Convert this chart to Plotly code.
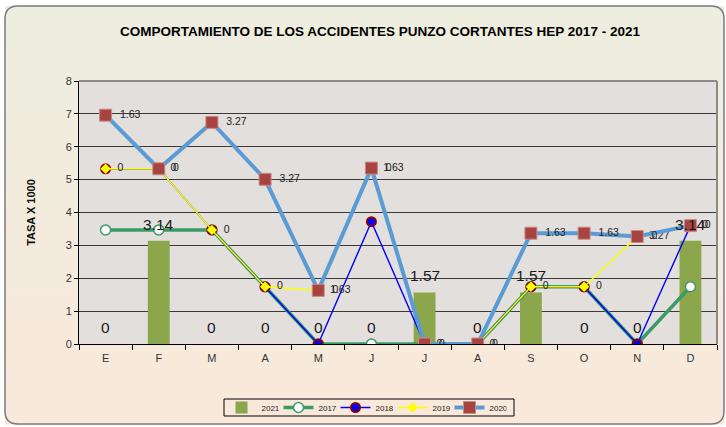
import numpy as np
import plotly.graph_objects as go

# ---------------- data ----------------
months = ["E", "F", "M", "A", "M", "J", "J", "A", "S", "O", "N", "D"]
tasa_2021 = [0, 3.14, 0, 0, 0, 0, 1.57, 0, 1.57, 0, 0, 3.14]
tasa_2017 = [3.47, 3.47, 3.47, 1.74, 0, 0, 0, 0, 1.74, 1.74, 0, 1.74]
tasa_2018 = [1.86, 1.86, 0, 0, 0, 3.72, 0, 0, 0, 0, 0, 1.86]
tasa_2019 = [0, 0, 0, 0, 1.63, 1.63, 0, 0, 0, 0, 3.27, 0]
tasa_2020 = [1.63, 0, 3.27, 3.27, 0, 0, 0, 0, 1.63, 1.63, 0, 0]
title_text = "COMPORTAMIENTO DE LOS ACCIDENTES PUNZO CORTANTES HEP 2017 - 2021"
y_title = "TASA X 1000"

# ---------------- layout geometry (pixels) ----------------
W_PX, H_PX = 726, 427
L, R, T, B = 79, 717, 81, 344
PW, PH = R - L, B - T


def px(x):
    return (x - L) / PW


def py(y):
    return (B - y) / PH


idx = np.arange(len(months))
c17 = np.array(tasa_2017)
c18 = c17 + np.array(tasa_2018)
c19 = c18 + np.array(tasa_2019)
c20 = c19 + np.array(tasa_2020)

FONT = "Liberation Sans, Arial, sans-serif"
PAD = "\u00a0\u00a0"

fig = go.Figure()

fig.add_trace(go.Bar(
    x=idx, y=tasa_2021, name="2021", width=0.41,
    marker=dict(color="#8BA64B", line=dict(width=0)),
))

fig.add_trace(go.Scatter(
    x=idx, y=c17, name="2017", mode="lines+markers",
    line=dict(color="#3C9A67", width=3.5),
    marker=dict(symbol="circle", size=10, color="white",
                line=dict(color="#3C9A67", width=1.5)),
))

fig.add_trace(go.Scatter(
    x=idx, y=c18, name="2018", mode="lines+markers",
    line=dict(color="#0000FF", width=1.4),
    marker=dict(symbol="circle", size=9, color="#0000FF",
                line=dict(color="#8B0000", width=2)),
))

fig.add_trace(go.Scatter(
    x=idx, y=c19, name="2019", mode="lines+markers+text",
    line=dict(color="#FFFF00", width=1.4),
    marker=dict(symbol="diamond", size=8, color="#FFFF00"),
    text=[PAD + f"{v:g}" for v in tasa_2019], textposition="middle right",
    textfont=dict(size=10.5, color="#222222", family=FONT),
))

fig.add_trace(go.Scatter(
    x=idx, y=c20, name="2020", mode="lines+markers+text",
    line=dict(color="#5B9BD5", width=4),
    marker=dict(symbol="square", size=12, color="#A8443F",
                line=dict(color="#C98A88", width=1)),
    text=[PAD + f"{v:g}" for v in tasa_2020], textposition="middle right",
    textfont=dict(size=10.5, color="#222222", family=FONT),
))

# bar labels for 2021
annotations = []
for i, v in enumerate(tasa_2021):
    annotations.append(dict(
        x=i, y=v, xref="x", yref="y", text=f"{v:g}", showarrow=False,
        yanchor="bottom", yshift=6,
        font=dict(size=15.5, color="#1a1a1a", family=FONT),
    ))

# background shapes: gradient, plot area, border
shapes = []
top_c = np.array([236, 238, 224])
bot_c = np.array([250, 233, 218])
y0p, y1p, x0p, x1p = 6, 424, 5, 724
n = 40
for k in range(n):
    ya = y0p + (y1p - y0p) * k / n
    yb = y0p + (y1p - y0p) * (k + 1) / n + 0.6
    t = (k + 0.5) / n
    c = (top_c * (1 - t) + bot_c * t).round().astype(int)
    shapes.append(dict(
        type="rect", xref="paper", yref="paper", layer="below",
        x0=px(x0p), x1=px(x1p), y0=py(ya), y1=py(yb),
        fillcolor=f"rgb({c[0]},{c[1]},{c[2]})", line=dict(width=0),
    ))
shapes.append(dict(
    type="rect", xref="x domain", yref="y domain", layer="below",
    x0=0, x1=1, y0=0, y1=1, fillcolor="#E2DFDC", line=dict(width=0),
))
# top and right plot borders (gray)
shapes.append(dict(type="line", xref="x domain", yref="y domain", layer="above",
                   x0=0, x1=1, y0=1, y1=1, line=dict(color="#8C8C8C", width=2)))
shapes.append(dict(type="line", xref="x domain", yref="y domain", layer="above",
                   x0=1, x1=1, y0=0, y1=1, line=dict(color="#8C8C8C", width=2)))
# legend frame
shapes.append(dict(type="rect", xref="paper", yref="paper", layer="above",
                   x0=px(224), x1=px(514), y0=py(416), y1=py(399),
                   line=dict(color="#000000", width=1), fillcolor="rgba(0,0,0,0)"))

# rounded outer border
r = 13
xa, xb, ya_, yb_ = px(x0p), px(x1p), py(y0p), py(y1p)
rx, ry = r / PW, r / PH
path = (f"M {xa + rx},{ya_} L {xb - rx},{ya_} Q {xb},{ya_} {xb},{ya_ - ry} "
        f"L {xb},{yb_ + ry} Q {xb},{yb_} {xb - rx},{yb_} "
        f"L {xa + rx},{yb_} Q {xa},{yb_} {xa},{yb_ + ry} "
        f"L {xa},{ya_ - ry} Q {xa},{ya_} {xa + rx},{ya_} Z")
shapes.append(dict(type="path", xref="paper", yref="paper", layer="above",
                   path=path, line=dict(color="#7A7A7A", width=1.5)))

fig.update_layout(
    width=W_PX, height=H_PX,
    margin=dict(l=L, r=W_PX - R, t=T, b=H_PX - B, autoexpand=False),
    paper_bgcolor="white", plot_bgcolor="rgba(0,0,0,0)",
    font=dict(family=FONT, color="#333333"),
    title=dict(text=f"<b>{title_text}</b>", x=380 / W_PX, xanchor="center",
               y=1 - 31 / H_PX, yanchor="middle",
               font=dict(size=13.5, color="#000000", family=FONT)),
    showlegend=True,
    legend=dict(orientation="h", x=px(364), xanchor="center", y=py(407.5), yanchor="middle",
                borderwidth=0, bgcolor="rgba(0,0,0,0)",
                font=dict(size=8, color="#222222", family=FONT),
                itemwidth=30, entrywidth=12, entrywidthmode="pixels",
                tracegroupgap=0, traceorder="normal"),
    barmode="overlay",
    shapes=shapes, annotations=annotations,
    xaxis=dict(range=[-0.5, 11.5], tickmode="array", tickvals=idx, ticktext=months,
               ticks="", showgrid=False, zeroline=False,
               showline=True, linecolor="#000000", linewidth=1,
               tickfont=dict(size=11, color="#333333"), ticklabelstandoff=4,
               minor=dict(tick0=-0.5, dtick=1, ticks="outside", ticklen=5,
                          tickcolor="#000000", tickwidth=1, showgrid=False)),
    yaxis=dict(range=[0, 8], dtick=1, showgrid=True, gridcolor="#3A3A3A", gridwidth=1,
               zeroline=False, showline=True, linecolor="#000000", linewidth=1,
               ticks="outside", ticklen=4, tickcolor="#000000",
               tickfont=dict(size=11, color="#333333"),
               title=dict(text=f"<b>{y_title}</b>", standoff=27,
                          font=dict(size=11, color="#111111"))),
)

fig.write_html("out.html", config={"displayModeBar": False},
               post_script="document.body.style.margin='0';")
